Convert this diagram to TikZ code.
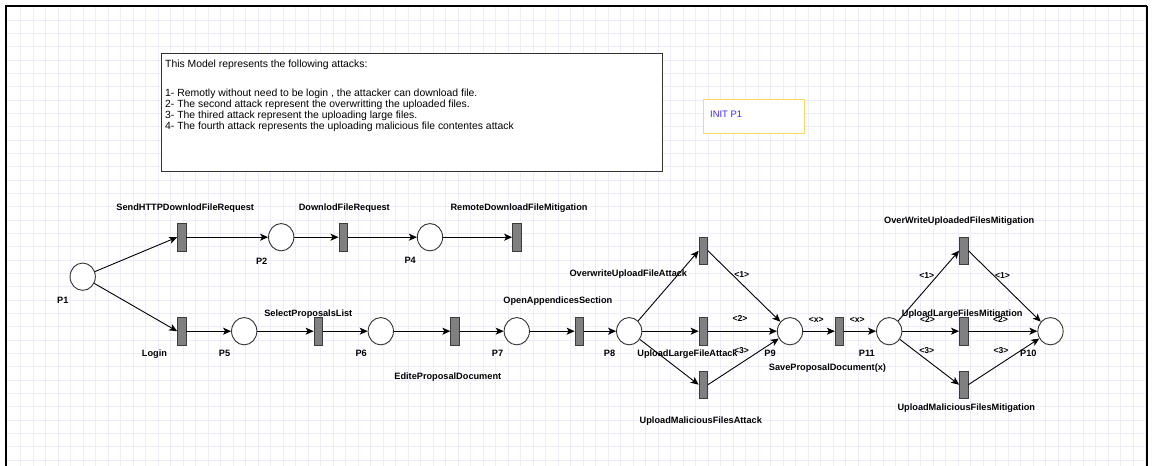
\documentclass[tikz,border=0pt]{standalone}
\usepackage{fontspec}
\setmainfont{Liberation Sans}
\usetikzlibrary{arrows.meta,shapes.geometric}
\definecolor{gridc}{RGB}{236,236,250}
\definecolor{placec}{RGB}{50,50,50}
\definecolor{transfill}{RGB}{128,128,128}
\definecolor{transdraw}{RGB}{60,60,60}
\definecolor{initdraw}{RGB}{255,217,102}
\definecolor{inittext}{RGB}{60,40,255}
\begin{document}
\begin{tikzpicture}[x=1pt,y=-1pt,
  place/.style={ellipse, draw=placec, fill=white, line width=0.9pt,
    minimum width=25.3pt, minimum height=27.3pt, inner sep=0pt},
  trans/.style={rectangle, draw=transdraw, fill=transfill, line width=0.8pt,
    minimum width=8.5pt, minimum height=27.5pt, inner sep=0pt},
  arc/.style={-{Stealth[length=8pt,width=7pt,inset=2pt]}, line width=0.9pt},
  lbl/.style={font=\fontsize{9.2}{11}\selectfont\bfseries, anchor=base, inner sep=0pt},
  elbl/.style={font=\fontsize{8.6}{10}\selectfont\bfseries, anchor=base, inner sep=0pt},
  infotext/.style={font=\fontsize{10.4}{11}\selectfont, anchor=base west, inner sep=0pt}
]
% canvas and size
\useasboundingbox (0,0) rectangle (1152,466);
\fill[white] (0,0) rectangle (1152,466);
% background grid
\begin{scope}[gridc, line width=0.6pt]
  \foreach \i in {1,...,91} {\draw (8.2+12.5*\i,6) -- (8.2+12.5*\i,466);}
  \foreach \j in {1,...,34} {\draw (6,6.67+13.333*\j) -- (1147,6.67+13.333*\j);}
\end{scope}
% page frame
\draw[black, line width=2pt] (6,466) -- (6,6);
\draw[black, line width=1.7pt] (5,6) -- (1147,6);
\draw[black, line width=1.4pt] (1147,6) -- (1147,466);

% description box
\node[draw=placec, fill=white, line width=1pt, minimum width=501pt, minimum height=118.3pt,
  inner sep=0pt, anchor=north west] (info) at (161,52.7) {};
\node[infotext] (info0) at (165,67.3) {This Model represents the following attacks:};
\node[infotext] (info1) at (165,96.7) {1- Remotly without need to be login , the attacker can download file.};
\node[infotext] (info2) at (165,107.7) {2- The second attack represent the overwritting the uploaded files.};
\node[infotext] (info3) at (165,118.7) {3- The thired attack represent the uploading large files.};
\node[infotext] (info4) at (165,129.8) {4- The fourth attack represents the uploading malicious file contentes attack};

% initial marking box
\node[draw=initdraw, fill=white, line width=1.1pt, minimum width=101.6pt, minimum height=34pt,
  inner sep=0pt, anchor=north west] (init) at (702.7,99.3) {};
\node[font=\fontsize{9.4}{11}\selectfont, text=inittext, anchor=base west, inner sep=0pt]
  (inittxt) at (710,117.3) {INIT P1};

% places
\node[place] (P1) at (82.7,276.7) {};
\node[place] (P2) at (281.2,237.2) {};
\node[place] (P4) at (430,237.2) {};
\node[place] (P5) at (244.2,331.2) {};
\node[place] (P6) at (380.8,331.2) {};
\node[place] (P7) at (516.8,331.2) {};
\node[place] (P8) at (629.2,331.2) {};
\node[place] (P9) at (790,331.2) {};
\node[place] (P11) at (889.2,331.2) {};
\node[place] (P10) at (1050.5,331.2) {};

% transitions
\node[trans] (sendreq) at (181.8,237.2) {};
\node[trans] (dlreq) at (343.2,237.2) {};
\node[trans] (remmit) at (516.8,237.2) {};
\node[trans] (login) at (181.8,331.2) {};
\node[trans] (select) at (318.3,331.2) {};
\node[trans] (edit) at (455,331.2) {};
\node[trans] (openapp) at (579.3,331.2) {};
\node[trans] (owa) at (703.3,250.8) {};
\node[trans] (ula) at (703.3,331.2) {};
\node[trans] (uma) at (703.3,384.7) {};
\node[trans] (save) at (839.5,331.2) {};
\node[trans] (owm) at (963.7,250.7) {};
\node[trans] (ulm) at (963.7,331.2) {};
\node[trans] (umm) at (963.7,384.7) {};

% arcs
\draw[arc] (P1) -- (sendreq.west);
\draw[arc] (P1) -- (login.west);
\draw[arc] (sendreq) -- (P2);
\draw[arc] (P2) -- (dlreq);
\draw[arc] (dlreq) -- (P4);
\draw[arc] (P4) -- (remmit);
\draw[arc] (login) -- (P5);
\draw[arc] (P5) -- (select);
\draw[arc] (select) -- (P6);
\draw[arc] (P6) -- (edit);
\draw[arc] (edit) -- (P7);
\draw[arc] (P7) -- (openapp);
\draw[arc] (openapp) -- (P8);
\draw[arc] (P8) -- (owa.west);
\draw[arc] (P8) -- (ula);
\draw[arc] (P8) -- (uma.west);
\draw[arc] (owa.east) -- (P9);
\draw[arc] (ula) -- (P9);
\draw[arc] (uma.east) -- (P9);
\draw[arc] (P9) -- (save);
\draw[arc] (save) -- (P11);
\draw[arc] (P11) -- (owm.west);
\draw[arc] (P11) -- (ulm);
\draw[arc] (P11) -- (umm.west);
\draw[arc] (owm.east) -- (P10);
\draw[arc] (ulm) -- (P10);
\draw[arc] (umm.east) -- (P10);

% place names
\node[lbl] (lP1) at (62.8,303.3) {P1};
\node[lbl] (lP2) at (261.7,264) {P2};
\node[lbl] (lP4) at (410.2,263.5) {P4};
\node[lbl] (lP5) at (224.5,356.7) {P5};
\node[lbl] (lP6) at (361.2,356.7) {P6};
\node[lbl] (lP7) at (497.5,356.7) {P7};
\node[lbl] (lP8) at (609.5,356.7) {P8};
\node[lbl] (lP9) at (770,356.7) {P9};
\node[lbl] (lP11) at (866.8,356.7) {P11};
\node[lbl] (lP10) at (1028.3,356.7) {P10};

% transition names
\node[lbl] (lsendreq) at (185.2,210) {SendHTTPDownlodFileRequest};
\node[lbl] (ldlreq) at (344.3,210) {DownlodFileRequest};
\node[lbl] (lremmit) at (519,210) {RemoteDownloadFileMitigation};
\node[lbl] (llogin) at (154.5,356.7) {Login};
\node[lbl] (lselect) at (308.3,316.7) {SelectProposalsList};
\node[lbl] (ledit) at (447.8,379.3) {EditeProposalDocument};
\node[lbl] (lopenapp) at (557.8,303.3) {OpenAppendicesSection};
\node[lbl] (lowa) at (628.3,276) {OverwriteUploadFileAttack};
\node[lbl] (lula) at (687.5,356.7) {UploadLargeFileAttack};
\node[lbl] (luma) at (700.8,423.3) {UploadMaliciousFilesAttack};
\node[lbl] (lsave) at (827.5,370) {SaveProposalDocument(x)};
\node[lbl] (lowm) at (959.2,223.3) {OverWriteUploadedFilesMitigation};
\node[lbl] (lulm) at (962.2,316.7) {UploadLargeFilesMitigation};
\node[lbl] (lumm) at (966.3,410) {UploadMaliciousFilesMitigation};

% arc inscriptions
\node[elbl] (e1a) at (741.7,277.3) {<1>};
\node[elbl] (e2a) at (740,321.5) {<2>};
\node[elbl] (e3a) at (741.5,353.3) {<3>};
\node[elbl] (exa) at (816.3,322.7) {<x>};
\node[elbl] (exb) at (857.3,322.7) {<x>};
\node[elbl] (e1b) at (926.7,278.7) {<1>};
\node[elbl] (e1c) at (1002.5,278.7) {<1>};
\node[elbl] (e2b) at (927.5,322.7) {<2>};
\node[elbl] (e2c) at (1000.5,322.7) {<2>};
\node[elbl] (e3b) at (926.7,353) {<3>};
\node[elbl] (e3c) at (1001,353) {<3>};
\end{tikzpicture}
\end{document}
